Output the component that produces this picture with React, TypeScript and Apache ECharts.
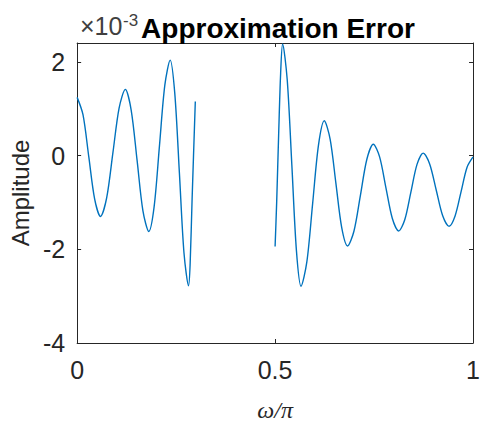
import React, { useEffect, useRef } from "react";
import * as echarts from "echarts";

// Values in units of 1e-3 (the axis carries a "×10^-3" multiplier)
const passbandFreq = [
  0, 0.0148, 0.0295, 0.0443, 0.059, 0.0747, 0.0904, 0.106, 0.1217, 0.1365, 0.1514, 0.1662, 0.181,
  0.1945, 0.208, 0.2215, 0.235, 0.2466, 0.2583, 0.2699, 0.2815, 0.2855, 0.2905, 0.2985,
];
const passbandErr = [
  1.24, 0.87, -0.03, -0.93, -1.3, -0.9, 0.06, 1.01, 1.41, 0.97, -0.1, -1.18, -1.62,
  -1.09, 0.21, 1.5, 2.035, 1.33, -0.37, -2.08, -2.78, -2.3, -0.9, 1.15,
];

const stopbandFreq = [
  0.5, 0.504, 0.509, 0.514, 0.519, 0.5306, 0.5423, 0.5539, 0.5655, 0.5802, 0.5949, 0.6096, 0.6243,
  0.639, 0.6537, 0.6683, 0.683, 0.6993, 0.7155, 0.7318, 0.748, 0.764, 0.78, 0.796, 0.812,
  0.8275, 0.843, 0.8585, 0.874, 0.8904, 0.9068, 0.9231, 0.9395, 0.9546, 0.9698, 0.9849, 1.0,
];
const stopbandErr = [
  -1.94, -1.0, 0.45, 1.75, 2.38, 1.62, -0.2, -2.03, -2.79, -2.27, -1.02, 0.22, 0.74,
  0.35, -0.6, -1.54, -1.93, -1.61, -0.85, -0.08, 0.24, -0.03, -0.69, -1.34, -1.61,
  -1.37, -0.78, -0.19, 0.05, -0.18, -0.73, -1.28, -1.51, -1.29, -0.77, -0.25, -0.03,
];

const xTicks = [0, 0.5, 1];
const yTicks = [-4, -2, 0, 2];

const titleText = "Approximation Error";
const xName = "ω/π";
const yName = "Amplitude";

const AXIS = "#262626";
const LINE = "#0072BD";
const SANS = "'Liberation Sans', Arial, sans-serif";

export default function App() {
  const ref = useRef<HTMLDivElement>(null);

  useEffect(() => {
    if (!ref.current) return;
    const chart = echarts.init(ref.current, undefined, { renderer: "svg" });
    const pairs = (xs: number[], ys: number[]) => xs.map((x, i) => [x, ys[i]]);
    const xFmt = (v: number) => (xTicks.some((t) => Math.abs(t - v) < 1e-9) ? String(v) : "");
    const yFmt = (v: number) => (yTicks.some((t) => Math.abs(t - v) < 1e-9) ? String(v) : "");

    const commonX = {
      type: "value",
      min: 0,
      max: 1,
      interval: 0.5,
      splitLine: { show: false },
      axisLine: { show: true, onZero: false, lineStyle: { color: AXIS, width: 1 } },
      axisTick: { show: true, inside: true, length: 4, lineStyle: { color: AXIS } },
    };
    const commonY = {
      type: "value",
      min: -4,
      max: 2.4,
      interval: 2,
      splitLine: { show: false },
      axisLine: { show: true, onZero: false, lineStyle: { color: AXIS, width: 1 } },
      axisTick: { show: true, inside: true, length: 4, lineStyle: { color: AXIS } },
    };

    const lineSeries = (xs: number[], ys: number[]) => ({
      type: "line",
      data: pairs(xs, ys),
      xAxisIndex: 0,
      yAxisIndex: 0,
      smooth: 0.3,
      showSymbol: false,
      symbol: "none",
      lineStyle: { color: LINE, width: 1.4 },
      clip: true,
    });

    chart.setOption({
      animation: false,
      backgroundColor: "#ffffff",
      title: {
        text: titleText,
        left: 273,
        textAlign: "center",
        top: 9,
        textStyle: { fontFamily: SANS, fontSize: 28, fontWeight: "bold", color: "#000000", lineHeight: 28 },
      },
      grid: { left: 77, right: 9, top: 43, bottom: 81, containLabel: false },
      xAxis: [
        {
          ...commonX,
          position: "bottom",
          name: xName,
          nameLocation: "middle",
          nameGap: 55,
          nameTextStyle: { fontFamily: "'Liberation Serif', 'Times New Roman', serif", fontStyle: "italic", fontSize: 24, color: AXIS },
          axisLabel: { show: true, margin: 14, fontFamily: SANS, fontSize: 25, color: AXIS, formatter: xFmt },
        },
        { ...commonX, position: "top", axisLabel: { show: false } },
      ],
      yAxis: [
        {
          ...commonY,
          position: "left",
          name: yName,
          nameLocation: "middle",
          nameGap: 43,
          nameTextStyle: { fontFamily: SANS, fontSize: 24, color: AXIS },
          axisLabel: { show: true, margin: 12, fontFamily: SANS, fontSize: 25, color: AXIS, formatter: yFmt },
        },
        { ...commonY, position: "right", axisLabel: { show: false } },
      ],
      graphic: [
        {
          type: "text",
          left: 80,
          top: 13,
          style: { text: "×10", fontFamily: SANS, fontSize: 25, fill: "#404040" },
        },
        {
          type: "text",
          left: 123,
          top: 12,
          style: { text: "-3", fontFamily: SANS, fontSize: 17, fill: "#404040" },
        },
      ],
      series: [lineSeries(passbandFreq, passbandErr), lineSeries(stopbandFreq, stopbandErr)],
    });
    return () => chart.dispose();
  }, []);

  return <div ref={ref} style={{ position: "fixed", left: 0, top: 0, width: 483, height: 427 }} />;
}
